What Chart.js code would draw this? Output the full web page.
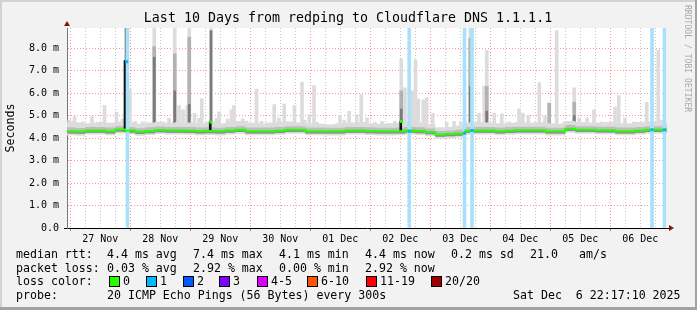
<!DOCTYPE html>
<html>
<head>
<meta charset="utf-8">
<script src="https://cdn.jsdelivr.net/npm/chart.js@4.4.1/dist/chart.umd.min.js"></script>
<style>
  html, body { margin: 0; padding: 0; background: #f2f2f2; }
</style>
</head>
<body>
<canvas id="smokeping" width="697" height="310"></canvas>
<script>
// time axis in hours from 27 Nov 00:00
const xMin = -1.3;
const xMax = 238.7;
const tickHours = [0, 6, 12, 18, 24, 30, 36, 42, 48, 54, 60, 66, 72, 78, 84, 90, 96, 102, 108, 114,
  120, 126, 132, 138, 144, 150, 156, 162, 168, 174, 180, 186, 192, 198, 204, 210, 216, 222, 228, 234];
const dayLabels = ["27 Nov", "28 Nov", "29 Nov", "30 Nov", "01 Dec", "02 Dec", "03 Dec", "04 Dec", "05 Dec", "06 Dec"];
const yTicks = [0, 0.5, 1, 1.5, 2, 2.5, 3, 3.5, 4, 4.5, 5, 5.5, 6, 6.5, 7, 7.5, 8, 8.5];

// median rtt (ms) and smoke band
const hours = [-1.3, 0, 4, 8, 12, 16, 20, 24, 28, 32, 36, 40, 44, 48, 52, 56, 60, 64, 68, 72, 76, 80, 84, 88, 92, 96,
  100, 104, 108, 112, 116, 120, 124, 128, 132, 136, 140, 144, 148, 152, 156, 160, 164, 168, 172, 176, 180, 184,
  188, 192, 196, 200, 204, 208, 212, 216, 220, 224, 228, 232, 236, 238.7];
const median = [4.31, 4.31, 4.29, 4.34, 4.34, 4.31, 4.38, 4.34, 4.28, 4.32, 4.36, 4.34, 4.34, 4.33, 4.31, 4.32,
  4.30, 4.34, 4.37, 4.31, 4.31, 4.31, 4.33, 4.37, 4.37, 4.31, 4.31, 4.30, 4.30, 4.34, 4.34, 4.32, 4.30, 4.30,
  4.31, 4.34, 4.32, 4.27, 4.16, 4.18, 4.21, 4.33, 4.34, 4.34, 4.31, 4.33, 4.35, 4.35, 4.35, 4.30, 4.30, 4.42,
  4.37, 4.37, 4.35, 4.35, 4.31, 4.31, 4.34, 4.37, 4.37, 4.37];
const bandHigh = [4.72, 4.75, 4.70, 4.66, 4.72, 4.68, 4.74, 4.70, 4.64, 4.70, 4.73, 4.68, 4.72, 4.70, 4.66, 4.74,
  4.66, 4.70, 4.76, 4.68, 4.65, 4.70, 4.72, 4.74, 4.70, 4.66, 4.64, 4.62, 4.66, 4.70, 4.72, 4.66, 4.64, 4.66,
  4.68, 4.72, 4.70, 4.62, 4.48, 4.50, 4.55, 4.70, 4.72, 4.70, 4.66, 4.68, 4.72, 4.70, 4.72, 4.66, 4.64, 4.76,
  4.72, 4.70, 4.70, 4.72, 4.66, 4.66, 4.72, 4.74, 4.72, 4.72];
const midHigh = [4.48, 4.48, 4.45, 4.50, 4.50, 4.47, 4.54, 4.50, 4.44, 4.48, 4.52, 4.50, 4.50, 4.49, 4.47, 4.48,
  4.46, 4.50, 4.53, 4.47, 4.47, 4.47, 4.49, 4.53, 4.53, 4.47, 4.47, 4.46, 4.46, 4.50, 4.50, 4.48, 4.46, 4.46,
  4.47, 4.50, 4.48, 4.43, 4.32, 4.34, 4.37, 4.49, 4.50, 4.50, 4.47, 4.49, 4.51, 4.51, 4.51, 4.46, 4.46, 4.58,
  4.53, 4.53, 4.51, 4.51, 4.47, 4.47, 4.50, 4.53, 4.53, 4.53];
const darkLow = [4.21, 4.21, 4.19, 4.24, 4.24, 4.21, 4.28, 4.24, 4.18, 4.22, 4.26, 4.24, 4.24, 4.23, 4.21, 4.22,
  4.20, 4.24, 4.27, 4.21, 4.21, 4.21, 4.23, 4.27, 4.27, 4.21, 4.21, 4.20, 4.20, 4.24, 4.24, 4.22, 4.20, 4.20,
  4.21, 4.24, 4.22, 4.17, 4.06, 4.08, 4.11, 4.23, 4.24, 4.24, 4.21, 4.23, 4.25, 4.25, 4.25, 4.20, 4.20, 4.32,
  4.27, 4.27, 4.25, 4.25, 4.21, 4.21, 4.24, 4.27, 4.27, 4.27];
const bandLow = [4.13, 4.13, 4.11, 4.16, 4.16, 4.13, 4.20, 4.16, 4.10, 4.14, 4.18, 4.16, 4.16, 4.15, 4.13, 4.14,
  4.12, 4.16, 4.19, 4.13, 4.13, 4.13, 4.15, 4.19, 4.19, 4.13, 4.13, 4.12, 4.12, 4.16, 4.16, 4.14, 4.12, 4.12,
  4.13, 4.16, 4.14, 4.09, 3.98, 4.00, 4.03, 4.15, 4.16, 4.16, 4.13, 4.15, 4.17, 4.17, 4.17, 4.12, 4.12, 4.24,
  4.19, 4.19, 4.17, 4.17, 4.13, 4.13, 4.16, 4.19, 4.19, 4.19];

// smoke spikes (ms tops)
const lightSpikeHours = [-0.4, 1.7, 5, 8.7, 13.7, 18.5, 21, 23.9, 26, 29, 33.6, 37, 39.5, 41.8, 43.5, 45.1, 46.8,
  47.6, 49.7, 51.5, 52.6, 56.3, 58.5, 59.5, 63, 64.5, 65.5, 69, 70.5, 74.5, 76.5,
  79.2, 81.6, 83.5, 85.6, 88.6, 89.7, 92.7, 93.8, 95.6, 97.5, 98.7, 107.9, 109.6, 111.6, 114.6, 116.4, 118.7,
  121.9, 124.7, 126.9, 129.8, 132.4, 133.9, 137, 138.1, 139.2, 141.2, 142.6, 145, 150.6, 153.5, 156.2,
  160, 163.5, 165.6, 166.6, 169.6, 172.6, 175.5, 179.5, 181, 183.2, 187.6, 189.9, 191.6, 194.6, 197.6,
  201.6, 203.6, 206.7, 209.5, 212.6, 217.9, 219.4, 221.9, 225.4, 230.6, 235.2, 236.3];
const lightSpikeTops = [4.81, 4.96, 4.72, 4.96, 5.45, 5.16, 4.85, 6.16, 4.75, 4.72, 8.9, 4.65, 4.88, 8.9, 5.45, 5.26, 5.45,
  8.9, 5.10, 4.88, 5.75, 8.9, 4.88, 5.17, 4.85, 5.26, 5.45, 4.85, 4.75, 6.18, 4.75,
  4.65, 5.49, 4.90, 5.52, 4.70, 5.45, 6.49, 4.80, 5.05, 6.34, 4.70, 5.02, 4.80, 5.19, 5.05, 5.94, 4.90,
  4.70, 4.75, 4.65, 4.75, 7.52, 6.24, 6.10, 7.48, 5.74, 5.70, 5.80, 5.10, 4.70, 4.75, 4.70,
  8.9, 5.11, 6.32, 7.90, 5.11, 5.08, 4.72, 5.30, 5.11, 5.00, 6.47, 4.96, 5.56, 8.78, 4.72,
  6.24, 4.90, 4.90, 5.26, 4.72, 5.38, 5.89, 4.90, 4.72, 5.59, 7.92, 4.80];
const midSpikeHours = [33.6, 41.8, 47.6, 132.4, 160, 166.6, 191.6, 201.6];
const midSpikeTops = [8.07, 7.75, 8.49, 6.10, 8.44, 6.30, 5.56, 5.60];
const darkSpikeHours = [22.3, 33.6, 41.8, 47.6, 56.3, 132.4, 160, 166.6, 201.6];
const darkSpikeTops = [8.9, 7.6, 6.1, 5.5, 8.78, 5.3, 6.3, 5.2, 5.0];
const blackSpikeHours = [21.9, 56.0, 132.2];
const blackSpikeTops = [7.45, 4.72, 4.74];

// packet loss events and loss-coloured median marks
const lossHours = [22.9, 135.6, 157.7, 160.7, 232.7, 237.7];
const markHours = [22.6, 56.3, 132.4, 135.6, 157.7, 160.7, 232.7, 237.7];
const markValues = [7.4, 4.71, 4.74, 4.30, 4.22, 4.34, 4.37, 4.37];
const markLoss = [1, 0, 0, 1, 1, 1, 1, 1];
const lossColors = ["#26ff00", "#00b8ff", "#0059ff", "#7e00ff", "#dd00ff", "#ff5500", "#ff0000", "#a10000"];
const lossLabels = ["0", "1", "2", "3", "4-5", "6-10", "11-19", "20/20"];

const mono = '"DejaVu Sans Mono", monospace';
const redGrid = "rgba(255,0,0,0.42)";
const grayGrid = "rgba(150,150,150,0.55)";

function line(values, extra) {
  return Object.assign({
    type: "line",
    data: hours.map((h, i) => ({ x: h, y: values[i] })),
    borderWidth: 0,
    borderColor: "rgba(0,0,0,0)",
    pointRadius: 0,
    stepped: "middle",
    fill: false,
  }, extra);
}

function spikes(hs, tops, base, color, width, order) {
  return {
    type: "bar",
    data: hs.map((h, i) => ({ x: h, y: [base, tops[i]] })),
    backgroundColor: color,
    barThickness: width,
    grouped: false,
    order: order,
  };
}

const decor = {
  id: "decor",
  beforeDraw(chart) {
    const { ctx, width, height, chartArea: a } = chart;
    ctx.save();
    ctx.fillStyle = "#f2f2f2";
    ctx.fillRect(0, 0, width, height);
    ctx.fillStyle = "#d2d2d2";
    ctx.fillRect(0, 0, width, 2);
    ctx.fillRect(0, 0, 2, height);
    ctx.fillStyle = "#a3a3a3";
    ctx.fillRect(0, height - 3, width, 3);
    ctx.fillRect(width - 2, 0, 2, height);
    ctx.fillStyle = "#ffffff";
    ctx.fillRect(a.left, a.top, a.right - a.left, a.bottom - a.top);
    ctx.restore();
  },
  afterDraw(chart) {
    const { ctx, chartArea: a } = chart;
    ctx.save();
    // axis arrows
    ctx.fillStyle = "#8b1010";
    ctx.beginPath();
    ctx.moveTo(a.left - 3, a.top - 2);
    ctx.lineTo(a.left + 3, a.top - 2);
    ctx.lineTo(a.left, a.top - 7);
    ctx.fill();
    ctx.beginPath();
    ctx.moveTo(a.right + 2, a.bottom - 3);
    ctx.lineTo(a.right + 2, a.bottom + 3);
    ctx.lineTo(a.right + 7, a.bottom);
    ctx.fill();
    ctx.strokeStyle = "#000";
    ctx.lineWidth = 1;
    ctx.beginPath();
    ctx.moveTo(a.right, a.bottom + 0.5);
    ctx.lineTo(a.right + 2, a.bottom + 0.5);
    ctx.stroke();

    // title
    ctx.fillStyle = "#000";
    ctx.textBaseline = "middle";
    ctx.textAlign = "center";
    ctx.font = "13.3px " + mono;
    ctx.fillText("Last 10 Days from redping to Cloudflare DNS 1.1.1.1", 348, 19);

    // legend rows
    ctx.textAlign = "left";
    ctx.font = "11.6px " + mono;
    const rows = [
      [254.5, [[16, "median rtt:"], [107, "4.4 ms avg"], [193, "7.4 ms max"], [279, "4.1 ms min"],
        [365, "4.4 ms now"], [451, "0.2 ms sd"], [530, "21.0"], [579, "am/s"]]],
      [268.5, [[16, "packet loss:"], [107, "0.03 % avg"], [193, "2.92 % max"], [279, "0.00 % min"], [365, "2.92 % now"]]],
      [282.3, [[16, "loss color:"]]],
      [296.3, [[16, "probe:"], [107, "20 ICMP Echo Pings (56 Bytes) every 300s"], [513, "Sat Dec  6 22:17:10 2025"]]],
    ];
    rows.forEach(([y, parts]) => parts.forEach(([x, t]) => ctx.fillText(t, x, y)));
    const swatchX = [109, 146, 183, 219, 257, 307, 366, 431];
    lossLabels.forEach((lab, i) => {
      ctx.fillStyle = lossColors[i];
      ctx.fillRect(swatchX[i], 276, 10, 11);
      ctx.strokeStyle = "#000";
      ctx.strokeRect(swatchX[i] + 0.5, 276.5, 10, 10);
      ctx.fillStyle = "#000";
      ctx.fillText(lab, swatchX[i] + 14, 282.3);
    });

    // watermark
    ctx.translate(687.5, 5);
    ctx.rotate(Math.PI / 2);
    ctx.fillStyle = "#a8a8a8";
    ctx.font = "8.1px " + mono;
    ctx.fillText("RRDTOOL / TOBI OETIKER", 0, 0);
    ctx.restore();
  },
};

Chart.defaults.font.family = mono;

new Chart(document.getElementById("smokeping"), {
  type: "line",
  data: {
    datasets: [
      line(bandLow, { order: 6 }),
      line(bandHigh, { order: 6, fill: "-1", backgroundColor: "#dcdcdc" }),
      line(darkLow, { order: 5 }),
      line(midHigh, { order: 5, fill: "-1", backgroundColor: "#bdbdbd" }),
      line(median, { order: 4, fill: { target: 2 }, backgroundColor: "#8c8c8c" }),
      spikes(lightSpikeHours, lightSpikeTops, 4.4, "#dcdcdc", 3, 9),
      spikes(midSpikeHours, midSpikeTops, 4.4, "#b2b2b2", 3, 8),
      spikes(darkSpikeHours, darkSpikeTops, 4.4, "#7a7a7a", 2, 7),
      spikes(blackSpikeHours, blackSpikeTops, 4.32, "#111111", 2, 3),
      {
        type: "bar",
        data: lossHours.map((h) => ({ x: h, y: [0, 8.9] })),
        backgroundColor: "#a8e2fa",
        barThickness: 3,
        grouped: false,
        order: 2,
      },
      line(median, { order: 1, borderColor: lossColors[0], borderWidth: 2 }),
      {
        type: "scatter",
        data: markHours.map((h, i) => ({ x: h, y: markValues[i] })),
        pointStyle: "rect",
        pointRadius: 2.1,
        pointBorderWidth: 0,
        pointBackgroundColor: markLoss.map((l) => lossColors[l]),
        order: 0,
      },
    ],
  },
  options: {
    responsive: false,
    animation: false,
    events: [],
    devicePixelRatio: 1,
    layout: { padding: { left: 0, top: 28, right: 30, bottom: 62 } },
    plugins: { legend: { display: false }, tooltip: { enabled: false }, title: { display: false } },
    scales: {
      x: {
        type: "linear",
        min: xMin,
        max: xMax,
        offset: false,
        afterBuildTicks: (s) => { s.ticks = tickHours.map((v) => ({ value: v })); },
        afterFit: (s) => { s.height = 20; },
        ticks: {
          autoSkip: false,
          maxRotation: 0,
          padding: 2,
          color: "#000",
          font: { size: 10 },
          callback: (v) => (v % 24 === 12 ? dayLabels[(v - 12) / 24] : ""),
        },
        grid: {
          offset: false,
          color: (c) => (c.tick && c.tick.value % 24 === 0 ? redGrid : grayGrid),
          tickLength: 3,
          tickColor: (c) => (c.tick && c.tick.value % 24 === 0 ? "#e06a6a" : "rgba(0,0,0,0)"),
        },
        border: { color: "#000", dash: [1, 2] },
      },
      y: {
        min: 0,
        max: 8.9,
        afterBuildTicks: (s) => { s.ticks = yTicks.map((v) => ({ value: v })); },
        afterFit: (s) => { s.width = 67; },
        ticks: {
          padding: 5,
          color: "#000",
          font: { size: 10 },
          callback: (v) => (v % 1 === 0 ? (v === 0 ? "0.0" : v.toFixed(1) + " m") : ""),
        },
        grid: {
          color: (c) => (c.tick && c.tick.value % 1 === 0 ? redGrid : grayGrid),
          tickLength: 3,
          tickColor: (c) => (c.tick && c.tick.value === 0 ? "#000" : "rgba(0,0,0,0)"),
        },
        border: { color: "#777", dash: [1, 2] },
        title: {
          display: true,
          text: "Seconds",
          color: "#000",
          font: { size: 11.6 },
          padding: { top: 4, bottom: 0 },
        },
      },
    },
  },
  plugins: [decor],
});
</script>
</body>
</html>
